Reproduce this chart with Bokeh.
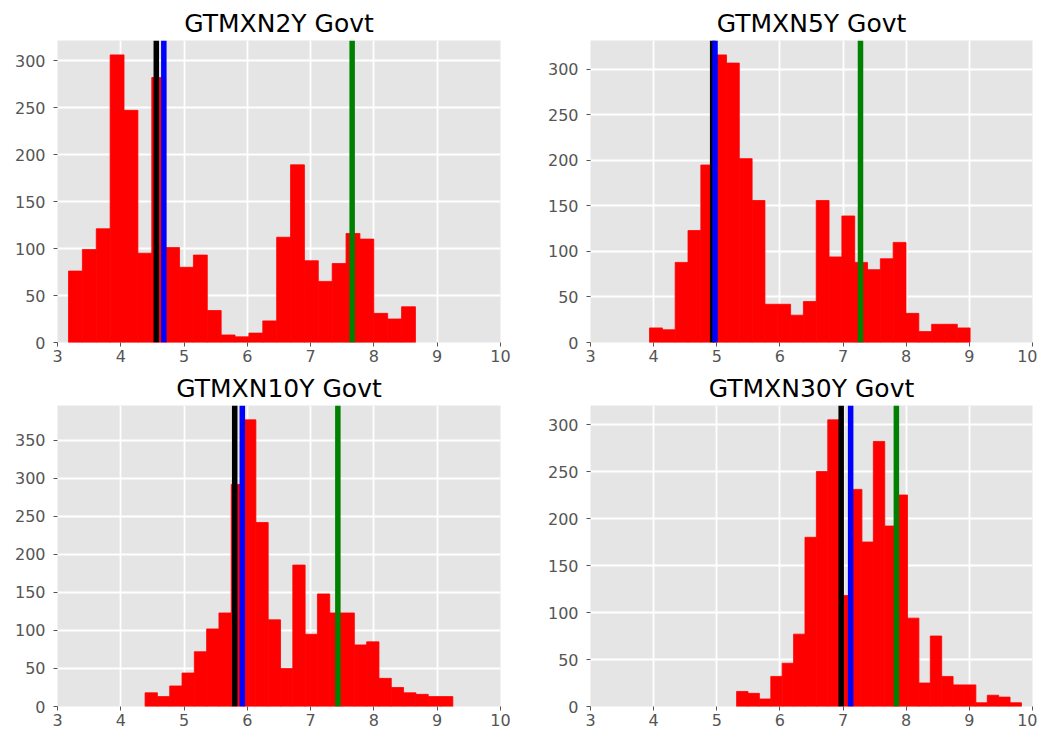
import numpy as np
from bokeh.plotting import figure
from bokeh.layouts import column, row
from bokeh.models import Span, FixedTicker, SingleIntervalTicker, Range1d
from bokeh.embed import file_html
from bokeh.resources import INLINE

titles = ["GTMXN2Y Govt", "GTMXN5Y Govt", "GTMXN10Y Govt", "GTMXN30Y Govt"]

# histogram range (min, max of each series), 25 bins each
bin_lo = [3.174, 3.935, 4.384, 5.314]
bin_hi = [8.656, 9.012, 9.247, 9.825]

counts_2y = [76, 99, 121, 306, 247, 95, 282, 101, 80, 93, 34, 8, 6, 10, 23,
             112, 189, 87, 65, 84, 116, 110, 31, 25, 38]
counts_5y = [16, 14, 88, 123, 195, 316, 307, 202, 156, 42, 42, 30, 45, 156,
             94, 139, 88, 80, 92, 110, 32, 12, 20, 20, 16]
counts_10y = [18, 13, 27, 44, 72, 102, 123, 292, 377, 242, 114, 50, 186, 95,
              148, 123, 123, 81, 85, 37, 25, 18, 16, 13, 13]
counts_30y = [16, 14, 8, 32, 46, 77, 180, 250, 305, 118, 231, 175, 282, 192,
              225, 94, 25, 75, 32, 23, 23, 4, 12, 10, 4]
counts = [counts_2y, counts_5y, counts_10y, counts_30y]

# vertical marker lines: black, blue, green
line_black = [4.561, 4.935, 5.80, 6.97]
line_blue = [4.680, 4.972, 5.92, 7.12]
line_green = [7.656, 7.276, 7.43, 7.844]

x_ticks = [3, 4, 5, 6, 7, 8, 9, 10]

FONT = "DejaVu Sans"
TICK_COLOR = "#555555"

# (width, height, border_left, border_right, border_top, border_bottom)
geom = [
    (540, 368, 57, 40, 40, 26),
    (497, 368, 50, 5, 40, 26),
    (540, 361, 57, 40, 35, 23),
    (497, 361, 50, 5, 35, 23),
]


def make_panel(i):
    w, h, bl, br, bt, bb = geom[i]
    c = np.array(counts[i], dtype=float)
    edges = np.linspace(bin_lo[i], bin_hi[i], len(c) + 1)
    ymax = c.max() * 1.05
    p = figure(width=w, height=h, output_backend="svg", toolbar_location=None,
               x_range=Range1d(3, 10), y_range=Range1d(0, ymax),
               title=titles[i],
               min_border_left=bl, min_border_right=br,
               min_border_top=bt, min_border_bottom=bb)
    p.background_fill_color = "#E5E5E5"
    p.border_fill_color = "white"
    p.outline_line_color = None

    p.title.text_font = FONT
    p.title.text_font_size = "25px"
    p.title.text_font_style = "normal"
    p.title.text_color = "black"
    p.title.align = "center"
    p.title.standoff = 6

    p.xgrid.grid_line_color = "white"
    p.ygrid.grid_line_color = "white"
    p.xgrid.grid_line_width = 1.8
    p.ygrid.grid_line_width = 1.8

    p.xaxis.ticker = FixedTicker(ticks=x_ticks)
    p.yaxis.ticker = SingleIntervalTicker(interval=50)
    for ax in (p.xaxis[0], p.yaxis[0]):
        ax.axis_line_color = None
        ax.major_tick_line_color = TICK_COLOR
        ax.major_tick_out = 4
        ax.major_tick_in = 0
        ax.minor_tick_line_color = None
        ax.major_label_text_font = FONT
        ax.major_label_text_font_size = "16px"
        ax.major_label_text_color = TICK_COLOR
    p.yaxis.major_label_standoff = 8
    p.xaxis.major_label_standoff = 3

    p.quad(left=edges[:-1], right=edges[1:], bottom=0, top=c,
           fill_color="red", line_color="red", line_width=0.8)

    for loc, col in ((line_black[i], "black"), (line_blue[i], "blue"),
                     (line_green[i], "green")):
        p.add_layout(Span(location=loc, dimension="height",
                          line_color=col, line_width=5.5))
    return p


panels = [make_panel(i) for i in range(4)]
layout = column(row(panels[0], panels[1]), row(panels[2], panels[3]))

open("out.html", "w").write(file_html(layout, INLINE))
